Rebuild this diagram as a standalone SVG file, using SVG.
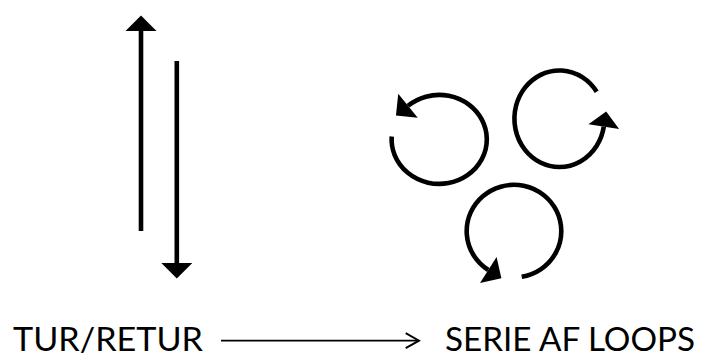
<svg xmlns="http://www.w3.org/2000/svg" width="709" height="358" viewBox="0 0 709 358">
  <style>
    .stroke { fill: none; stroke: #000; stroke-width: 4.6; stroke-linecap: butt; }
    .label { font-family: "Lato", "Liberation Sans", sans-serif; font-size: 33px; fill: #000; }
    .link { fill: none; stroke: #000; stroke-width: 1.8; }
  </style>
  <defs>
    <!-- solid triangular head, base sits on the path end -->
    <marker id="head" markerUnits="userSpaceOnUse" viewBox="0 -16 16 32" refX="0" refY="0" markerWidth="16" markerHeight="32" orient="auto" overflow="visible">
      <path d="M0,-15.5 L15.5,0 L0,15.5 Z" fill="#000"/>
    </marker>
    <!-- open chevron head for the connector -->
    <marker id="open" markerUnits="userSpaceOnUse" viewBox="-14 -9 16 18" refX="0" refY="0" markerWidth="16" markerHeight="18" orient="auto" overflow="visible">
      <path d="M-13.3,-7.5 L0,0 L-13.3,7.5" fill="none" stroke="#000" stroke-width="1.9"/>
    </marker>
  </defs>

  <!-- back-and-forth pair -->
  <g id="tur-retur">
    <path class="stroke" d="M141,231 L141,31" marker-end="url(#head)"/>
    <path class="stroke" d="M176.8,61 L176.8,263" marker-end="url(#head)"/>
    <text class="label" x="13" y="351" textLength="190" lengthAdjust="spacingAndGlyphs">TUR/RETUR</text>
  </g>

  <!-- three circular loops -->
  <g id="serie-af-loops">
    <path class="stroke" d="M391.7,136.5 A47.6,44.5 0 1 0 408,105.8" marker-end="url(#head)"/>
    <path class="stroke" d="M596.7,91.7 A45,48.3 0 1 0 603.8,126.7" marker-end="url(#head)"/>
    <path class="stroke" d="M521.7,276.8 A47.3,46.3 0 1 0 488.3,270" marker-end="url(#head)"/>
    <text class="label" x="445" y="351" textLength="250" lengthAdjust="spacingAndGlyphs">SERIE AF LOOPS</text>
  </g>

  <!-- connector -->
  <g id="connectors">
    <path class="link" d="M221,340.7 L419,340.7" marker-end="url(#open)"/>
  </g>
</svg>
